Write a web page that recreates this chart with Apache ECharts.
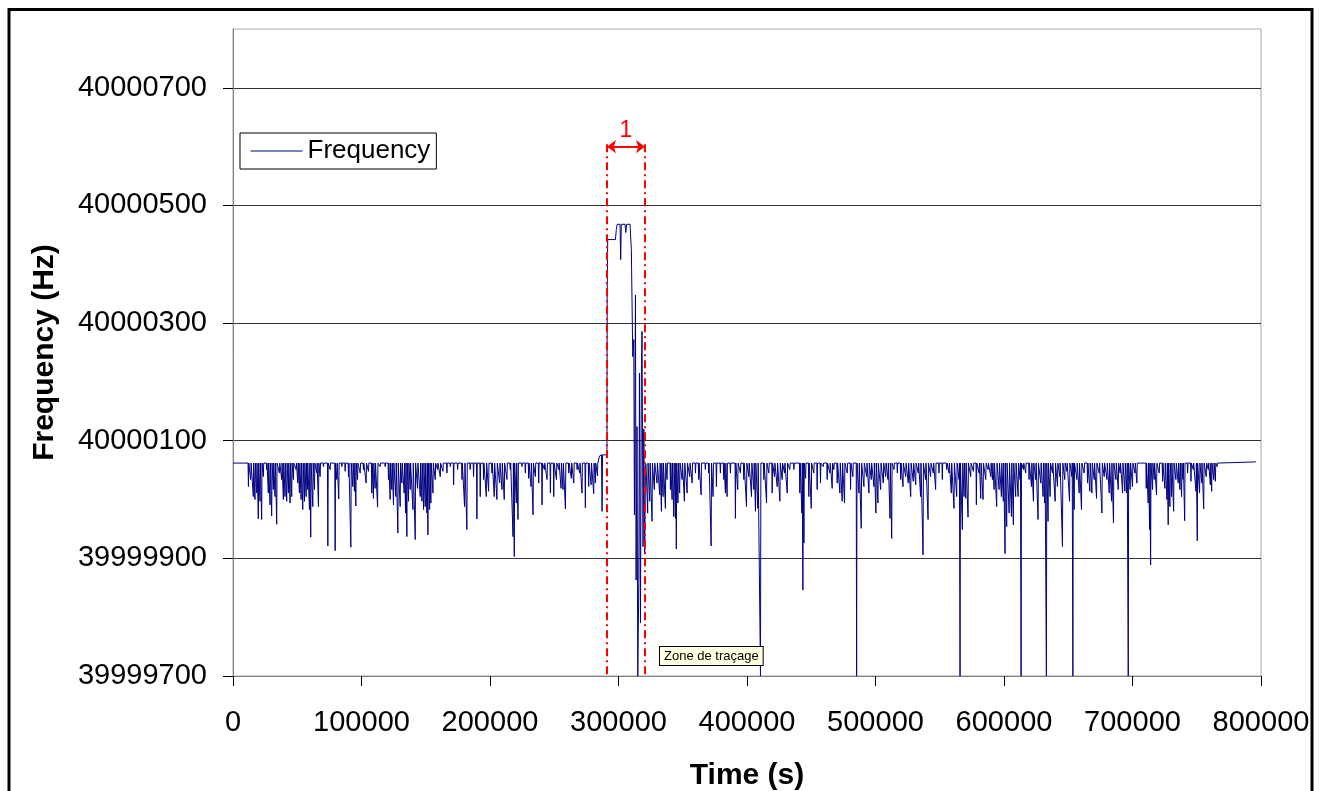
<!DOCTYPE html>
<html>
<head>
<meta charset="utf-8">
<title>Frequency</title>
<script src="https://cdn.jsdelivr.net/npm/echarts@6/dist/echarts.min.js"></script>
<style>
html, body { margin: 0; padding: 0; background: #fff; }
#chart { width: 1325px; height: 791px; }
</style>
</head>
<body>
<div id="chart"></div>
<script>
// frequencies are stored as Hz above 40 MHz
var F0 = 40000000;
var baseHz = 62;

// downward spikes (time in s, offset in Hz)
var dipTimeS = [
  12000, 13800, 15800, 17100, 18400, 19700, 21000, 22300, 23600, 26200, 27500, 28800, 30100, 31400, 32700, 34000,
  36100, 37900, 39200, 40500, 41800, 43100, 44400, 45700, 47000, 49100, 50400, 51700, 53000, 54300, 55600, 56900,
  57900, 59500, 60500, 62100, 63400, 65200, 66500, 67800, 70400, 73800, 75600, 79500, 80800, 82300, 84700, 87300,
  89900, 91700, 93200, 94500, 95600, 96900, 99000, 101500, 103600, 105400, 108000, 109300, 110600, 112500, 114500,
  118400, 121000, 122300, 123600, 124900, 126700, 128300, 130100, 131400, 133200, 134300, 135300, 136600, 137900,
  140000, 141800, 143600, 145700, 147000, 148300, 149600, 150900, 151700, 153000, 154000, 155600, 157400, 159200,
  161300, 163400, 166500, 169100, 171700, 174800, 178200, 180200, 182000, 184600, 187200, 189800, 192400, 195000,
  197100, 198900, 201500, 203300, 205400, 207500, 209300, 211100, 213200, 215800, 217900, 218900, 220500, 221800,
  224900, 227500, 230100, 231900, 233500, 235300, 237900, 240500, 242300, 244400, 247000, 249600, 251700, 253500,
  255300, 256800, 258700, 261300, 263300, 265200, 267800, 269800, 271600, 274200, 276800, 278700, 280700, 282000,
  283600,
  322700, 324300, 326100, 327900, 330000, 332100, 333400, 334700, 336500, 337800, 340400, 341700, 343000, 344300,
  345000, 346300, 347600, 349500, 351300, 353400, 355400, 357300, 359900, 362400, 364300, 367600, 370200, 372100,
  373600, 376200, 379300, 381900, 383200, 384500, 387100, 391000, 392800, 394900, 397500, 399600, 401400, 403500,
  405300, 406600, 408400, 410500, 413100, 415200, 417000, 419600, 421400, 423500, 425600, 427400, 429200, 431300,
  433300, 436500, 441100, 442700, 443500, 444300, 445600, 448100, 450000, 452000, 454600, 457200, 459300, 462400,
  464500, 466300, 467600, 470200, 472300, 474100, 475900, 478000, 480600, 482400, 485300, 487100, 488900, 491000,
  493100, 494900, 496700, 498800, 500300, 501900, 504000, 506100, 507900, 509700, 511300, 512600, 514400, 517000,
  519600, 521400, 523500, 525500, 527400, 529400, 531300, 533300, 535100, 537000, 539000, 540900, 542900, 545000,
  546800, 549400, 552000, 555400, 557200, 559000, 561100, 563200, 565000, 565800,
  567600, 568900, 570200, 572000, 574100, 576200, 578500, 580600, 581900, 583700, 585800, 587600, 589700, 591000,
  592300, 594300, 596200, 598000, 599500, 600800, 602100, 604000, 605800, 607300, 609100, 611000, 612500, 613300,
  615100, 616900, 619500, 621400, 622900, 624700, 626500, 628600, 630400, 631700, 633000, 634300, 635900, 637700,
  639800, 641600, 643400, 645500, 647300, 648900, 651000, 652800, 653600, 654600, 656700, 658500, 660300, 662400,
  665000, 666800, 668400, 670200, 672000, 674100, 676200, 678000, 680100, 681900, 683700, 685200, 687100, 688900,
  690400, 692300, 694100, 695600, 696700, 698200, 700000, 701900, 703400, 706500, 710700, 712200, 713300, 714100,
  715600, 716900, 718700, 720800, 723400, 725200, 726800, 727800, 729100, 730400, 732000, 733800, 735600, 736900,
  738200, 739300, 740600, 742900, 745500, 747300, 749400, 750400, 752200, 753800, 755400, 757400, 759000, 760600,
  761600, 763200, 764500, 765800
];
var dipHz = [
  22, 34, 5, 0, 11, -33, -3, -34, 39, 51, 11, -9, -28, 17, 5, -42,
  45, 34, 0, 5, -3, 11, -6, 5, 34, 51, 28, 11, 0, -17, -3, 5,
  17, -17, -64, -12, 17, 45, -12, 39, 56, -79, 51, -87, 34, 1, 56, 48,
  39, -81, 22, 14, -11, 34, 45, 51, 28, 48, 11, 2, 19, -13, 56,
  56, 34, 0, 17, -9, 5, -57, -12, 28, 11, -23, -63, -3, 17,
  -17, -68, 19, 5, -3, -17, -12, -23, -60, -17, -6, 11, 34, 51,
  39, 48, 45, 56, 25, 51, 34, -12, -51, 51, 39, -33, 5, 34,
  5, 14, 45, 5, 0, 28, 17, 0, 34, 51, -63, -97, -6, -34,
  56, 45, 36, 22, -26, 39, 28, -9, 51, 34, 11, 5, 34, 51,
  19, 17, -16, 45, 36, 28, 51, 45, 11, -14, 22, 25, 10, 28,
  40,
  -23, -3, -37, 17, 28, 8, -20, 5, -15, 34, 17, 0, -29, -32,
  -84, -6, 11, 34, -3, 11, 39, 28, 45, 34, 8, 51, 45, -79,
  5, 22, 45, 34, 11, 5, 45, -32, 17, 45, 34, -12, 39, 5,
  17, -20, -15, -300, 34, -6, 45, 11, 39, 22, -3, 34, 45, 11,
  51, 51, 11, -23, -154, -74, 36, 5, -15, 45, 17, 28, 56, 34,
  45, 19, 51, 28, 11, -3, -6, 45, 17, 39, -300, 11, -49, 22,
  39, 11, 34, 22, -23, -6, 17, 28, 39, 34, -32, -66, 51, 45,
  34, 22, 39, 28, 5, 31, 25, 45, 5, -94, 34, -34, 39, 45,
  17, 45, 34, 51, 45, 11, -15, 5, 34, -300,
  -51, 5, 2, -30, 39, 48, -9, 45, 2, 0, 34, 51, 39, 34,
  17, -12, 17, 5, -3, -92, -46, -23, -29, -43, 5, 5, 34, -300,
  51, 45, 34, 22, -3, 34, -34, 28, 5, -6, -300, -37, 5, 45,
  -3, 22, 39, -80, 34, 48, -3, 39, -300, -17, 34, 11, -17, 45,
  28, 14, 11, 34, 2, 45, -23, 39, 34, 11, -3, -40, 34, 17,
  45, 11, 14, 11, -300, 17, 22, 45, 28, 59, 19, -6, -51, -111,
  17, 34, 8, 45, 31, 19, 0, -43, -12, 5, -20, 34, 28, 17,
  5, 34, -36, 45, 31, 51, 14, -70, 11, 28, -16, 39, 51, 25,
  14, 34, 31, 56
];

// excursion in zone 1 and the flat parts at both ends
var zoneTimeS = [0, 284800, 285200, 286800, 287200, 287600, 291000, 291200, 291600, 297600, 298300, 299000,
  301200, 301700, 302200, 305100, 305700, 306300, 309000, 309300, 310000, 311100, 311900, 312400, 313200,
  313700, 314400, 315000, 315800, 316300, 317100, 317800, 318300, 319100, 319700, 320400, 321000, 321400,
  322000, 766300, 766800, 796000];
var zoneHz = [62, 62, 74, 76, -20, 76, 76, 352, 442, 442, 459, 468,
  468, 408, 468, 468, 454, 468, 468, 453, 425, 243, 272, -26, 348,
  -137, 124, -300, -143, 215, -210, 210, 286, -80, 120, -91, 56, 60,
  62, 62, 64, 64];

var freqTicks = [39999700, 39999900, 40000100, 40000300, 40000500, 40000700];
var zone1 = { startS: 291050, endS: 320620, arrowHz: 40000600, topHz: 40000604, label: '1' };

var points = [];
for (var i = 0; i < dipTimeS.length; i++) {
  points.push([dipTimeS[i] - 300, F0 + baseHz]);
  points.push([dipTimeS[i], F0 + dipHz[i]]);
  points.push([dipTimeS[i] + 300, F0 + baseHz]);
}
for (var j = 0; j < zoneTimeS.length; j++) {
  points.push([zoneTimeS[j], F0 + zoneHz[j]]);
}
points.sort(function (a, b) { return a[0] - b[0]; });

var font = 'Liberation Sans, Arial, sans-serif';

var myChart = echarts.init(document.getElementById('chart'));
var option = {
  animation: false,
  backgroundColor: '#fff',
  grid: {
    left: 233, right: 64, top: 29, bottom: 115,
    outerBoundsMode: 'none',
    show: true, borderColor: '#a6a6a6', borderWidth: 1
  },
  legend: {
    left: 240, top: 133,
    padding: [5, 6, 5, 10],
    borderColor: '#000', borderWidth: 1,
    backgroundColor: '#fff',
    itemWidth: 52, itemHeight: 14,
    itemStyle: { opacity: 0 },
    lineStyle: { color: '#000080', width: 1 },
    textStyle: { fontFamily: font, fontSize: 26, color: '#000' },
    data: ['Frequency']
  },
  xAxis: {
    type: 'value', min: 0, max: 800000, interval: 100000,
    name: 'Time (s)', nameLocation: 'middle', nameGap: 85,
    nameTextStyle: { fontFamily: font, fontSize: 30, fontWeight: 'bold', color: '#000' },
    axisLine: { show: true, lineStyle: { color: '#808080' } },
    axisTick: { show: true, length: 10, lineStyle: { color: '#000' } },
    axisLabel: { fontFamily: font, fontSize: 29, color: '#000', margin: 32,
      formatter: function (v) { return String(v); } },
    splitLine: { show: false }
  },
  yAxis: {
    type: 'value', min: 39999700, max: 40000800, interval: 200,
    name: 'Frequency (Hz)', nameLocation: 'middle', nameGap: 173,
    nameTextStyle: { fontFamily: font, fontSize: 30, fontWeight: 'bold', color: '#000' },
    axisLine: { show: true, lineStyle: { color: '#808080' } },
    axisTick: { show: true, length: 10, lineStyle: { color: '#000' }, customValues: freqTicks },
    axisLabel: { fontFamily: font, fontSize: 29, color: '#000', margin: 26, customValues: freqTicks,
      formatter: function (v) { return String(v); } },
    splitLine: { show: true, lineStyle: { color: '#333' } }
  },
  graphic: [{
    type: 'rect', silent: true, z: 100,
    shape: { x: 9, y: 9.5, width: 1303, height: 900 },
    style: { fill: 'none', stroke: '#000', lineWidth: 3 }
  }, {
    type: 'text', left: 659, top: 646, z: 100,
    style: {
      text: 'Zone de traçage', fontFamily: font, fontSize: 13, fill: '#000',
      backgroundColor: '#ffffe1', borderColor: '#000', borderWidth: 1, padding: [3, 4, 2, 4]
    }
  }],
  series: [{
    name: 'Frequency',
    type: 'line',
    symbol: 'none',
    data: points,
    lineStyle: { color: '#000080', width: 1 },
    itemStyle: { color: '#000080' },
    z: 2,
    markLine: {
      silent: true,
      animation: false,
      symbol: ['arrow', 'arrow'],
      symbolSize: [10, 9],
      lineStyle: { type: 'solid', width: 2, color: '#ff0000' },
      label: { show: true, position: 'middle', formatter: zone1.label, color: '#ff0000',
        fontFamily: font, fontSize: 23, distance: 4 },
      data: [
        [{ coord: [zone1.startS, zone1.arrowHz] }, { coord: [zone1.endS, zone1.arrowHz] }]
      ]
    }
  }]
};
myChart.setOption(option);

// red dash-dot bounds of zone 1, placed through the chart's own scales
var edges = [zone1.startS, zone1.endS].map(function (t) {
  var top = myChart.convertToPixel({ gridIndex: 0 }, [t, zone1.topHz]);
  var bottom = myChart.convertToPixel({ gridIndex: 0 }, [t, 39999700]);
  return {
    type: 'line', silent: true, z: 50,
    shape: { x1: top[0], y1: top[1], x2: bottom[0], y2: bottom[1] },
    style: { stroke: '#ff0000', lineWidth: 2, lineDash: [8, 4, 2, 4] }
  };
});
myChart.setOption({ graphic: option.graphic.concat(edges) });
</script>
</body>
</html>
